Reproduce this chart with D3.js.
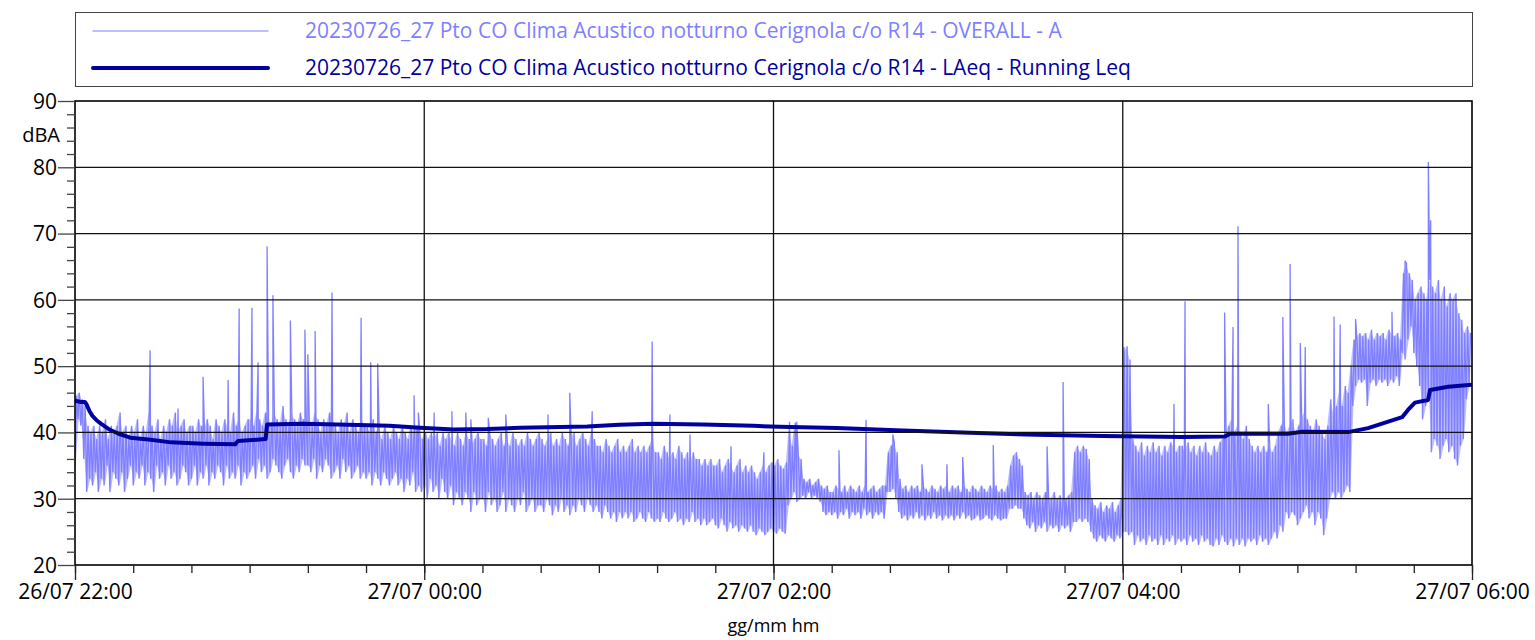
<!DOCTYPE html>
<html>
<head>
<meta charset="utf-8">
<script src="https://cdn.jsdelivr.net/npm/d3@7.9.0/dist/d3.min.js"></script>
<style>
  html, body { margin: 0; padding: 0; background: #fff; }
  svg { display: block; font-family: "Open Sans", "Noto Sans", sans-serif; }
</style>
</head>
<body>
<svg id="chart" width="1535" height="640"></svg>
<script>
// time axis: minutes from 26/07 22:00
const startTime = '2023-07-26T22:00:00Z';
const endTime = '2023-07-27T06:00:00Z';

const seriesNames = [
  '20230726_27 Pto CO Clima Acustico notturno Cerignola c/o R14 - OVERALL - A',
  '20230726_27 Pto CO Clima Acustico notturno Cerignola c/o R14 - LAeq - Running Leq'
];

const yTicks = [20, 30, 40, 50, 60, 70, 80, 90];

// OVERALL - A: per minute, lowest and highest level (dBA)
const overallLo = [
  35,42,41,36,31,33,32,34,31,33,32,35,31,34,33,32,34,31,33,35,
  32,34,33,35,32,34,33,31,35,33,34,32,35,33,34,32,33,35,34,32,
  33,35,32,34,33,35,32,34,33,35,34,32,35,33,34,33,35,32,34,33,
  34,35,33,36,34,35,33,34,36,35,34,33,35,36,34,33,35,34,36,35,
  35,34,36,33,35,34,36,35,33,34,35,33,36,34,35,33,34,35,33,34,
  33,34,32,34,33,32,34,33,32,33,34,32,33,31,33,32,34,31,32,31,
  32,30,33,31,32,30,33,31,30,32,29,31,30,29,31,30,28,31,29,30,
  30,28,31,29,30,28,29,31,28,30,29,28,30,29,31,28,29,30,28,29,
  29,28,30,29,27.5,29,28,30,28,29,27.5,29,28,30,29,28,30,29,28,29,
  28,27,29,28,27,28,26.5,28,27,28,27,28,26.5,27,28,27,26.5,28,27,26.5,
  27,26.5,28,27,26.5,27,28,26.5,27,26,27,26.5,28,26.5,27,26,27,26,26.5,27,
  26,25.5,27,26,25,26.5,25.5,26,25,26,25.5,25,26,25,24.5,25.5,25,24.5,25,25.5,
  25,24.7,25.5,25,24.7,29,30,31,29.5,30,30.5,30,31,30,30.5,30,29.5,28,27.5,28,
  27.5,28,27,28,27.5,28.5,27,28,27.5,28,27,28.5,27.5,28,27,28,27.5,28,27,31,
  31,31.5,30,28,27,27.5,26.7,27.5,27,28,27,27.5,26.7,27.5,27,28,27,27.5,26.7,27.5,
  27,27.5,26.7,27.5,27,28,27,27.5,26.7,27,27.5,26.7,27,27.5,27,26.7,27.5,27,26.7,27,
  27,28.5,28.5,29,28.5,28.5,27,26,25.5,26.5,25,26,25.5,26.5,25,26,25.5,26,25,26,
  25.5,26,25,26.5,26.5,27,26.5,27,26.5,25,24,23.5,24.5,24,23.5,24.5,24,23.5,24.5,24,
  25,25,24.5,25,23,24.5,23.5,24,23,24.5,23.5,24,23,24.5,23,24,23.5,24.5,23,24,
  23.5,24,23,24.5,23.5,24,23,24.5,23.5,24,23,22.8,24,23,24.5,23.5,23,24,22.8,24,
  23,24,22.8,24,23.5,24,23,24.5,23.5,24,23,24,25,24,26,25,28,27,28,27.5,
  26,27,28,29,27,28,26,28,27,24.5,27,30,31,30,31,30,31,32,31,44,
  47,48,47.5,48,44,47.5,48,47,48,47.5,48,47,48,47.5,48.5,47,52,51,54,56,
  52,50,47,42,44,45,37,39,38,36,38,39,37,38,36,35,38,39,45,47
];
const overallHi = [
  45.5,46,45,44,41,40,41,39,41,40,42,39,41,40,41,43,40,41,39,41,
  40,42,39,41,40,43,41,40,42,39,41,40,42,41,43,40,41,42,40,41,
  41,40,42,41,40,42,41,39,42,41,40,42,41,40,43,41,42,40,41,42,
  42,41,43,42,41,43,42,41,43,42,41,44,42,41,43,42,41,43,42,41,
  42,41,43,42,40,42,41,43,42,41,40,42,41,43,40,42,41,40,42,41,
  41,40,42,40,41,39,41,40,39,41,40,39,41,40,39,41,40,41,40,39,
  40,39,40,39,40,38,40,39,40,39,38,40,39,38,40,39,38,39,40,39,
  39,38,40,39,38,39,40,38,39,38,40,39,38,39,38,40,39,38,39,40,
  39,38,39,40,38,39,38,40,39,38,39,40,38,39,40,39,38,40,39,38,
  38,37,39,38,37,38,39,37,38,37,38,39,37,38,37,38,37,38,39,37,
  37,36,38,37,36,37,36,38,37,36,37,35,37,36,36,35,36,35,36,35,
  35,36,34,35,36,35,34,35,36,34,35,34,35,34,33,34,35,34,35,35.5,
  35,36,35,34.5,35.5,41,38,41.5,37,36,33,32.5,33,32,32.5,33,32,31.5,32,31,
  31,32,31.5,31,32,31,32,31.5,31,32,31,32,31,31.5,32,31,31.5,32,32,37,
  38,38.5,37,33,31.5,32,31,32,31.5,32,31,32,31.5,31,32,31.5,31,32,31.5,32,
  31,32,31.5,32,31,32,31.5,31,32,31.5,31,32,31.5,31,32,31.5,32,31,31.5,31,
  32,35,36.5,37,36,35,31,30.5,31,30,31,30.5,30,31,30.5,30,31,30,30.5,30,
  30,30.5,31,37,38,37,38,37.5,36,30,29,28.5,29.5,28,29,28.5,29.5,28,29,30,
  52,53,51,39,38,37,38.5,36.5,38,37,38.5,37,38,36.5,38,37,38.5,38,37,38,
  38,37,38.5,37,38,36.5,38,37,38.5,37,36.5,38,37,38.5,39,40,41,42,40,41,
  40,39,41,39,38,37,38,37,38,37,38,37,38,40,41,42,40,41,42,40,
  41,42,43,42,41,40,42,41,40,39,41,45,43,44,46,44,47,46,50,54,
  54,55,54.5,55,54,55.5,54,55,54.5,55,54,55.5,55,54.5,55,54,64,65.5,64,63,
  60,61,62,61,60,63,62,61,63,60,62,59,61,60,61,58,57,55,56,55
];

// isolated peaks [minute, dBA]
const overallPeaks = [
  [25.8,52.4],[35.4,43.6],[44,48.4],[52.6,47.9],[56.4,58.7],[60.8,58.8],[62.9,50.6],
  [66,68.1],[68,60.7],[74,56.9],[79,55.5],[80,51.8],[82.5,55.3],[88.3,61.1],[98.3,57.3],
  [101.6,50.6],[104,50.4],[116.5,45.6],[118,43],[123.4,43],[129.5,43.2],[134.3,43],
  [136,42],[142,42.2],[148,42.7],[162.5,42.7],[170,46],[177.7,43.2],[198.3,53.7],
  [204.4,42.7],[211.3,39.7],[225.4,37.9],[236.7,37],[245.5,41.6],[248,41.6],[262.5,37.3],
  [271.8,41.9],[281,39.7],[291,35.2],[299.6,35.2],[305,36.3],[315.5,38.1],[334,37.9],
  [339.5,47.6],[360.4,52.9],[377.6,44.3],[381.4,59.8],[395,58.1],[397.9,55.9],[399.6,71.1],
  [410,44.3],[415,57.4],[417.5,65.4],[421,53.5],[422.7,52.9],[432.6,57.5],[434.7,56.3],
  [440,57.1],[452.5,58.2],[457,65.9],[465,80.8],[465.8,72]
];

// LAeq running Leq [minute, dBA]
const leqMinutes = [0,2,3.4,4,5,6,7.5,9,12,15,19,26,33,44,55,56,65.5,66,78,90,101,108,
  118.5,130,141.6,152.9,176,187,198.6,215.8,233,242,261.8,284.5,307.5,330.5,353.2,380.4,
  395.1,397,416.8,421.6,437.4,444.3,456,458,460.4,464.9,465.6,471.8,480];
const leqValues = [44.8,44.6,44.6,44.2,43.2,42.5,41.8,41.3,40.4,39.8,39.2,38.9,38.5,38.3,38.2,38.7,39.0,41.2,41.3,41.2,41.1,41.0,
  40.7,40.45,40.5,40.7,40.9,41.15,41.3,41.2,41.0,40.85,40.65,40.3,39.95,39.65,39.45,39.3,
  39.4,39.8,39.8,40.1,40.05,40.65,42.3,43.4,44.5,44.9,46.4,46.9,47.2];

const colOverall = '#8080ff';
const colLeq = '#0000a0';

const svg = d3.select('#chart');
const margin = { left: 75, right: 63, top: 101, bottom: 75 };
const W = 1535, H = 640;

const t0 = new Date(startTime);
const toDate = (m) => new Date(t0.getTime() + m * 60000);

const x = d3.scaleUtc()
  .domain([t0, new Date(endTime)])
  .range([margin.left, W - margin.right]);
const y = d3.scaleLinear()
  .domain([20, 90])
  .range([H - margin.bottom, margin.top]);

// legend
const legend = svg.append('g');
legend.append('rect')
  .attr('x', margin.left + 0.5).attr('y', 12.5)
  .attr('width', W - margin.right - margin.left).attr('height', 74)
  .attr('fill', 'none').attr('stroke', '#444').attr('stroke-width', 1);
[[colOverall, 1.2, 31], [colLeq, 4, 68]].forEach(([c, w, ly], i) => {
  legend.append('line')
    .attr('x1', 93).attr('x2', 268).attr('y1', ly).attr('y2', ly)
    .attr('stroke', c).attr('stroke-width', w).attr('stroke-linecap', 'round');
  legend.append('text')
    .attr('x', 305).attr('y', ly + 7)
    .attr('fill', c).attr('font-size', 21)
    .text(seriesNames[i]);
});

svg.append('defs').append('clipPath').attr('id', 'plotclip')
  .append('rect')
  .attr('x', margin.left).attr('y', margin.top)
  .attr('width', W - margin.right - margin.left)
  .attr('height', H - margin.bottom - margin.top);

const plot = svg.append('g').attr('clip-path', 'url(#plotclip)');

// OVERALL trace: faint band between the per-minute extremes, then the trace itself
const band = overallLo.map((v, i) => ({ m: i + 0.25, lo: v, hi: overallHi[i] }));
plot.append('path')
  .datum(band)
  .attr('d', d3.area()
    .x(d => x(toDate(d.m)))
    .y0(d => y(d.lo))
    .y1(d => y(d.hi)))
  .attr('fill', colOverall)
  .attr('fill-opacity', 0.5);

let pts = [];
overallLo.forEach((v, i) => {
  pts.push({ m: i, v: v });
  pts.push({ m: i + 0.5, v: overallHi[i] });
});
overallPeaks.forEach(([m, v]) => pts.push({ m: m, v: v }));
pts.sort((a, b) => a.m - b.m);

const line = d3.line()
  .x(d => x(toDate(d.m)))
  .y(d => y(d.v));

plot.append('path')
  .datum(pts)
  .attr('d', line)
  .attr('fill', 'none')
  .attr('stroke', colOverall)
  .attr('stroke-width', 1.3);

// grid
const grid = svg.append('g').attr('stroke', '#111').attr('stroke-width', 1.3);
yTicks.slice(1, -1).forEach(v => {
  grid.append('line')
    .attr('x1', margin.left).attr('x2', W - margin.right)
    .attr('y1', y(v)).attr('y2', y(v));
});
x.ticks(d3.utcHour.every(2)).slice(1, -1).forEach(d => {
  grid.append('line')
    .attr('x1', x(d)).attr('x2', x(d))
    .attr('y1', margin.top).attr('y2', H - margin.bottom);
});

// Leq
const leqData = leqMinutes.map((m, i) => ({ m: m, v: leqValues[i] }));
plot.append('path')
  .datum(leqData)
  .attr('d', line)
  .attr('fill', 'none')
  .attr('stroke', colLeq)
  .attr('stroke-width', 4)
  .attr('stroke-linejoin', 'round');

// frame
svg.append('rect')
  .attr('x', margin.left).attr('y', margin.top)
  .attr('width', W - margin.right - margin.left)
  .attr('height', H - margin.bottom - margin.top)
  .attr('fill', 'none').attr('stroke', '#000').attr('stroke-width', 1.6);

// y axis
const minorY = d3.range(20, 90, 2).filter(v => v % 10 !== 0);
const yMinor = svg.append('g')
  .attr('transform', `translate(${margin.left},0)`)
  .call(d3.axisLeft(y).tickValues(minorY).tickSize(8).tickFormat(''));
const yMajor = svg.append('g')
  .attr('transform', `translate(${margin.left},0)`)
  .call(d3.axisLeft(y).tickValues(yTicks).tickSize(17).tickPadding(1));
[yMinor, yMajor].forEach(g => {
  g.select('.domain').remove();
  g.selectAll('line').attr('stroke', '#444').attr('stroke-width', 1.3);
});
yMajor.selectAll('text').attr('font-size', 21).attr('fill', '#000')
  .attr('font-family', '"Open Sans", sans-serif').attr('dy', '0.35em');

svg.append('text')
  .attr('x', 60).attr('y', 142)
  .attr('text-anchor', 'end')
  .attr('font-size', 20)
  .text('dBA');

// x axis
const xMinor = svg.append('g')
  .attr('transform', `translate(0,${H - margin.bottom})`)
  .call(d3.axisBottom(x).ticks(d3.utcMinute.every(20)).tickSize(8).tickFormat(''));
const xMajor = svg.append('g')
  .attr('transform', `translate(0,${H - margin.bottom})`)
  .call(d3.axisBottom(x).ticks(d3.utcHour.every(2)).tickSize(15).tickPadding(4)
    .tickFormat(d3.utcFormat('%d/%m %H:%M')));
[xMinor, xMajor].forEach(g => {
  g.select('.domain').remove();
  g.selectAll('line').attr('stroke', '#222').attr('stroke-width', 1.3);
});
xMajor.selectAll('text').attr('font-size', 21).attr('fill', '#000')
  .attr('font-family', '"Open Sans", sans-serif');

svg.append('text')
  .attr('x', (margin.left + W - margin.right) / 2).attr('y', 632)
  .attr('text-anchor', 'middle')
  .attr('font-size', 18)
  .text('gg/mm hm');
</script>
</body>
</html>
